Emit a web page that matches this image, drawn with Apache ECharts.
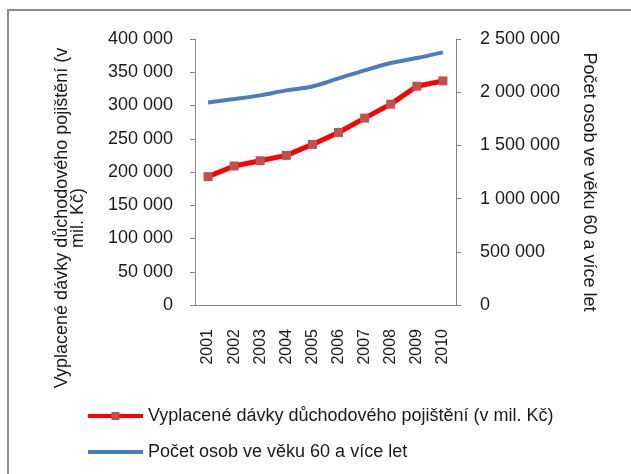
<!DOCTYPE html>
<html>
<head>
<meta charset="utf-8">
<script src="https://cdn.jsdelivr.net/npm/echarts@6/dist/echarts.min.js"></script>
<style>
  html, body { margin: 0; padding: 0; background: #fff; }
  #chart { width: 631px; height: 474px; }
</style>
</head>
<body>
<div id="chart"></div>
<script>
// data
const years = ['2001', '2002', '2003', '2004', '2005', '2006', '2007', '2008', '2009', '2010']
const benefits = [193000, 209000, 217000, 225000, 241500, 259500, 281000, 302000, 329000, 337000]
const seniors = [1904000, 1936000, 1970000, 2017000, 2054000, 2130000, 2205000, 2274000, 2321000, 2374000]
const benefitsName = 'Vyplacené dávky důchodového pojištění (v mil. Kč)'
const seniorsName = 'Počet osob ve věku 60 a více let'
const leftTitle = 'Vyplacené dávky důchodového pojištění (v\nmil. Kč)'
const rightTitle = 'Počet osob ve věku 60 a více let'

const FONT = '"Liberation Sans", Arial, sans-serif'
const AXIS = '#868686'
const TEXT = '#1a1a1a'
const RED = '#ff0000'
const MARK = '#c0504d'
const BLUE = '#4a7ebb'

// 400000 -> "400 000"
function fmt(v) { return String(v).replace(/\B(?=(\d{3})+(?!\d))/g, ' ') }

const chart = echarts.init(document.getElementById('chart'))
chart.setOption({
  animation: false,
  textStyle: { fontFamily: FONT },
  grid: { left: 195, right: 175, top: 39, bottom: 169 },
  graphic: [
    { type: 'rect', shape: { x: 8, y: 10, width: 700, height: 600 },
      style: { fill: 'none', stroke: '#8c8c8c', lineWidth: 2 } },
    { type: 'text', x: 70, y: 218, rotation: Math.PI / 2,
      style: { text: leftTitle, fill: TEXT, font: '18px ' + FONT,
        align: 'center', verticalAlign: 'middle', lineHeight: 16 } },
    { type: 'text', x: 589, y: 182, rotation: -Math.PI / 2,
      style: { text: rightTitle, fill: TEXT, font: '18px ' + FONT,
        align: 'center', verticalAlign: 'middle' } },
  ],
  legend: {
    orient: 'vertical', left: 86, top: 407, padding: 0,
    itemWidth: 55, itemHeight: 10, itemGap: 18,
    textStyle: { color: TEXT, fontSize: 18, lineHeight: 18, fontFamily: FONT },
    data: [
      { name: benefitsName, lineStyle: { width: 4 } },
      { name: seniorsName, lineStyle: { width: 4 }, itemStyle: { color: 'rgba(0,0,0,0)', opacity: 0 } },
    ],
  },
  xAxis: {
    type: 'category', data: years, boundaryGap: true,
    axisLine: { lineStyle: { color: AXIS } },
    axisTick: { length: 5, interval: 0, lineStyle: { color: AXIS } },
    axisLabel: { rotate: 90, interval: 0, margin: 24, color: TEXT, fontSize: 16 },
  },
  yAxis: [
    { type: 'value', min: 0, max: 400000, interval: 50000,
      splitLine: { show: false },
      axisLine: { show: true, lineStyle: { color: AXIS } },
      axisTick: { show: true, length: 5, lineStyle: { color: AXIS } },
      axisLabel: { formatter: fmt, margin: 22, color: TEXT, fontSize: 18 } },
    { type: 'value', min: 0, max: 2500000, interval: 500000,
      splitLine: { show: false },
      axisLine: { show: true, lineStyle: { color: AXIS } },
      axisTick: { show: true, length: 5, lineStyle: { color: AXIS } },
      axisLabel: { formatter: fmt, margin: 24, color: TEXT, fontSize: 18 } },
  ],
  series: [
    { name: seniorsName, type: 'line', yAxisIndex: 1, data: seniors,
      smooth: 0.3, symbol: 'none',
      lineStyle: { color: BLUE, width: 4 }, itemStyle: { color: BLUE } },
    { name: benefitsName, type: 'line', yAxisIndex: 0, data: benefits,
      symbol: 'rect', symbolSize: 9,
      lineStyle: { color: RED, width: 5 }, itemStyle: { color: MARK } },
  ],
})
</script>
</body>
</html>
